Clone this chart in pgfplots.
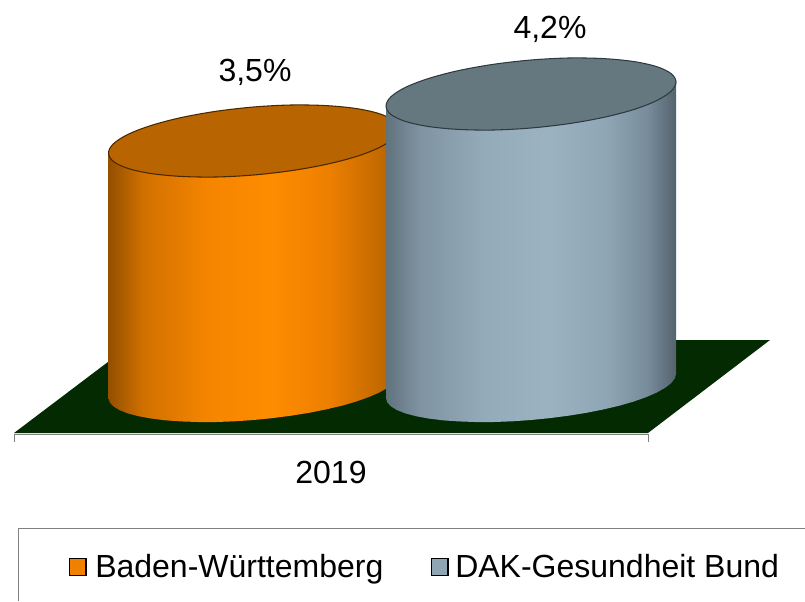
\documentclass[border=0pt]{standalone}
\usepackage{fontspec}
\setmainfont{Liberation Sans}
\usepackage{pgfplots}
\pgfplotsset{compat=1.18}
\definecolor{floorgreen}{HTML}{032A00}
\definecolor{orangetop}{HTML}{B86400}
\definecolor{bluetop}{HTML}{66787F}
\definecolor{orangeedge}{HTML}{4A2800}
\definecolor{blueedge}{HTML}{2E3A42}
\definecolor{orangekey}{HTML}{F08000}
\definecolor{bluekey}{HTML}{8FA5B3}
\pgfdeclarehorizontalshading{orangeshade}{100bp}{
  rgb(0bp)=(0.58,0.31,0.00);
  rgb(25bp)=(0.58,0.31,0.00);
  rgb(31bp)=(0.82,0.44,0.00);
  rgb(42bp)=(0.96,0.52,0.00);
  rgb(53bp)=(1.00,0.55,0.00);
  rgb(63bp)=(0.93,0.50,0.00);
  rgb(70bp)=(0.80,0.43,0.00);
  rgb(75bp)=(0.70,0.38,0.00);
  rgb(100bp)=(0.70,0.38,0.00)}
\pgfdeclarehorizontalshading{blueshade}{100bp}{
  rgb(0bp)=(0.38,0.45,0.49);
  rgb(25bp)=(0.38,0.45,0.49);
  rgb(31bp)=(0.50,0.58,0.64);
  rgb(42bp)=(0.58,0.67,0.73);
  rgb(53bp)=(0.61,0.70,0.76);
  rgb(63bp)=(0.56,0.65,0.71);
  rgb(70bp)=(0.47,0.55,0.61);
  rgb(75bp)=(0.33,0.39,0.43);
  rgb(100bp)=(0.33,0.39,0.43)}
\tikzset{lbl/.style={font=\fontsize{24}{28}\selectfont, inner sep=0pt, text=black}}
\begin{document}
\begin{tikzpicture}
\useasboundingbox (0,0) rectangle (603.75pt,450.75pt);
\begin{axis}[
  at={(0,0)}, anchor=south west,
  scale only axis, width=603.75pt, height=450.75pt,
  xmin=0, xmax=805, ymin=0, ymax=601, y dir=reverse,
  hide axis, clip=false
]
% floor
\addplot[fill=floorgreen, draw=none] coordinates {(14,433) (648,433) (770,340) (137,340)} --cycle;
% category axis
\addplot[color=gray, line width=0.6pt] coordinates {(14,442) (14,434) (648,434) (648,442)};
% orange cylinder
\addplot[shade, shading=orangeshade, draw=none] coordinates {
 (398.5,129) (108.5,153) (108.5,398) (109.7,402.3) (113.4,406.4) (119.5,410.1) (127.9,413.4) (138.5,416.2)
 (151,418.5) (165.2,420.3) (181,421.4) (198,422) (216,422) (234.6,421.3) (253.5,420) (272.4,418.1)
 (291,415.7) (309,412.8) (326,409.4) (341.8,405.7) (356,401.6) (368.5,397.2) (379.1,392.6) (387.5,387.9)
 (393.6,383.2) (397.3,378.5) (398.5,374)} --cycle;
\addplot[fill=orangetop, draw=orangeedge, line width=0.8pt, smooth cycle, tension=0.55] coordinates {
 (398.5,129) (393.6,120.6) (379.1,113.6) (356,108.5) (326,105.6) (291,105) (253.5,107) (216,111.3)
 (181,117.6) (151,125.5) (127.9,134.4) (113.4,143.8) (108.5,153) (113.4,161.4) (127.9,168.4) (151,173.5)
 (181,176.4) (216,177) (253.5,175) (291,170.7) (326,164.4) (356,156.6) (379.1,147.6) (393.6,138.2)};
% blue cylinder
\addplot[shade, shading=blueshade, draw=none] coordinates {
 (676,82) (386,106) (386,398) (387.2,402.3) (390.9,406.4) (397,410.1) (405.4,413.4) (416,416.2)
 (428.5,418.5) (442.7,420.3) (458.5,421.4) (475.5,422) (493.5,422) (512.1,421.3) (531,420) (549.9,418.1)
 (568.5,415.7) (586.5,412.8) (603.5,409.4) (619.3,405.7) (633.5,401.6) (646,397.2) (656.6,392.6) (665,387.9)
 (671.1,383.2) (674.8,378.5) (676,374)} --cycle;
\addplot[fill=bluetop, draw=blueedge, line width=0.8pt, smooth cycle, tension=0.55] coordinates {
 (676,82) (671.1,73.6) (656.6,66.6) (633.5,61.5) (603.5,58.6) (568.5,58) (531,60) (493.5,64.3)
 (458.5,70.6) (428.5,78.5) (405.4,87.4) (390.9,96.8) (386,106) (390.9,114.4) (405.4,121.4) (428.5,126.5)
 (458.5,129.4) (493.5,130) (531,128) (568.5,123.7) (603.5,117.4) (633.5,109.6) (656.6,100.6) (671.1,91.2)};
% legend frame
\addplot[color=gray, line width=0.6pt] coordinates {(18,601) (18,528) (805,528)};
% legend keys
\addplot[fill=orangekey, draw=black, line width=1pt] coordinates {(69.5,558.5) (86,558.5) (86,575.5) (69.5,575.5)} --cycle;
\addplot[fill=bluekey, draw=black, line width=1pt] coordinates {(431.5,558.5) (448,558.5) (448,575.5) (431.5,575.5)} --cycle;
% texts
\node[lbl, anchor=base] at (axis cs:255,81) {3,5\%};
\node[lbl, anchor=base] at (axis cs:550,38) {4,2\%};
\node[lbl, anchor=base] at (axis cs:331,483) {2019};
\node[lbl, anchor=base west] at (axis cs:95,577) {Baden-Württemberg};
\node[lbl, anchor=base west] at (axis cs:455,577) {DAK-Gesundheit Bund};
\end{axis}
\end{tikzpicture}
\end{document}
